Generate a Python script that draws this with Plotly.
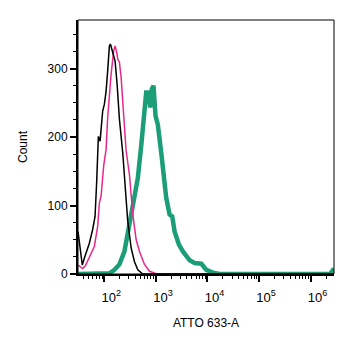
import plotly.graph_objects as go

# ---- data (fluorescence intensity, counts) ----
black_x = [30.8, 37.3, 40.8, 51.1, 59.2, 65.9, 70.8, 74.1, 76.4, 82.5, 92.7, 100, 107.9, 115.9,
           125, 130.8, 145, 161.4, 176.6, 195.8, 227, 244.9, 284, 330.5, 383.6, 444.8, 556, 2.85e6]
black_y = [62, 13, 23, 45, 65, 84, 134, 182, 201, 194, 238, 248, 267, 297,
           333, 336, 324, 311, 277, 226, 177, 145, 77, 38, 18, 6, 0, 0]

pink_x = [30.8, 37.9, 42.7, 51.1, 63.9, 74.1, 80, 86.3, 96.9, 107.9, 115.9, 135, 151.6, 161.4,
          173.4, 181.4, 195.8, 211.3, 237.4, 264, 306.4, 355.5, 413.8, 480, 600, 750, 1014, 2.85e6]
pink_y = [13, 8, 12, 24, 40, 70, 104, 114, 158, 182, 229, 292, 326, 333,
          324, 314, 309, 287, 229, 180, 145, 87, 50, 33, 14, 4, 0.5, 0]

green_x = [30.8, 80, 125, 156.6, 195.8, 244.9, 306.4, 383.6, 444.8, 517.6, 600, 647.5, 727.6,
           774.5, 832, 897.6, 982, 1089, 1268, 1393, 1586, 1839, 2075, 2300, 2792, 3341, 4510,
           5639, 7608, 9518, 12790, 17260, 2.38e6, 2.85e6]
green_y = [0, 0, 1, 6, 14, 33, 72, 111, 140, 187, 236, 265, 265,
           243, 270, 275, 231, 218, 177, 146, 111, 87, 84, 62, 43, 33, 20,
           16, 15, 6, 2, 0, 0, 8]

x_major = [1e2, 1e3, 1e4, 1e5, 1e6]
x_major_text = ["10<sup>2</sup>", "10<sup>3</sup>", "10<sup>4</sup>", "10<sup>5</sup>", "10<sup>6</sup>"]
x_minor = [m * 10 ** e for e in range(1, 7) for m in range(2, 10) if 30 <= m * 10 ** e <= 2.8e6]
y_major = [0, 100, 200, 300]
y_minor = list(range(0, 375, 25))

fig = go.Figure()
fig.add_trace(go.Scatter(x=green_x, y=green_y, mode="lines",
                         line=dict(color="#1B9E77", width=4.5), showlegend=False))
fig.add_trace(go.Scatter(x=pink_x, y=pink_y, mode="lines",
                         line=dict(color="#E7298A", width=1.5), showlegend=False))
fig.add_trace(go.Scatter(x=black_x, y=black_y, mode="lines",
                         line=dict(color="#000000", width=1.5), showlegend=False))

font = dict(family="Arial, Liberation Sans, sans-serif", size=12, color="#000")

fig.update_layout(
    width=355, height=348,
    margin=dict(l=78, r=21, t=20, b=74),
    paper_bgcolor="white", plot_bgcolor="white",
    font=font,
    shapes=[dict(type="rect", xref="paper", yref="paper", x0=0, y0=0, x1=1, y1=1,
                 line=dict(color="black", width=1))],
)
fig.update_xaxes(
    type="log", range=[1.488, 6.455],
    showgrid=False, zeroline=False,
    showline=True, linecolor="black", linewidth=2,
    tickmode="array", tickvals=x_major, ticktext=x_major_text,
    ticks="outside", ticklen=6, tickwidth=2, tickcolor="black",
    ticklabelshift=7, ticklabelstandoff=4,
    tickfont=dict(family="Arial, Liberation Sans, sans-serif", size=13, color="#000"),
    minor=dict(tickmode="array", tickvals=x_minor, ticks="outside", ticklen=3,
               tickwidth=1, tickcolor="black", showgrid=False),
    title=dict(text="ATTO 633-A", standoff=15, font=font),
)
fig.update_yaxes(
    range=[0, 371],
    showgrid=False, zeroline=False,
    showline=True, linecolor="black", linewidth=2,
    tickmode="array", tickvals=y_major,
    ticks="outside", ticklen=6, tickwidth=2, tickcolor="black",
    minor=dict(tickmode="array", tickvals=y_minor, ticks="outside", ticklen=3,
               tickwidth=1, tickcolor="black", showgrid=False),
    title=dict(text="Count", standoff=17, font=font),
)

fig.write_html("out.html")
